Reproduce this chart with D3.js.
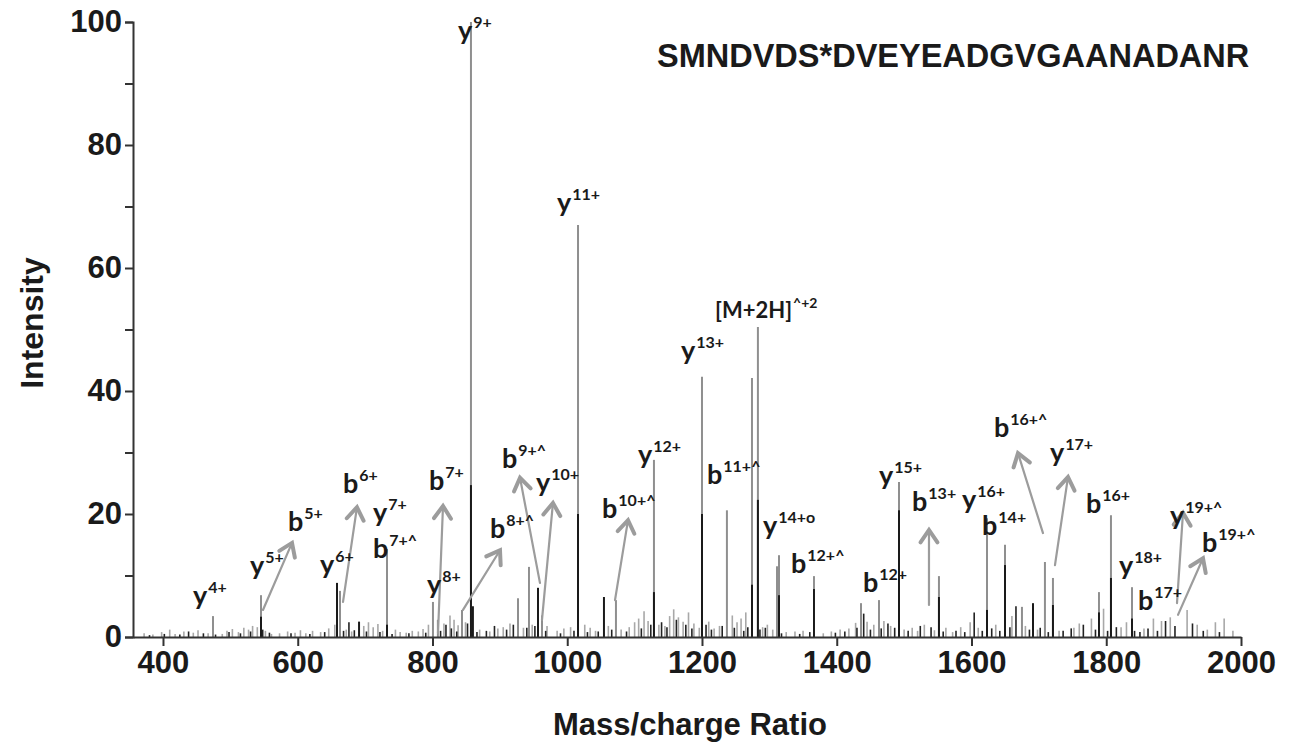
<!DOCTYPE html>
<html>
<head>
<meta charset="utf-8">
<script src="https://cdn.jsdelivr.net/npm/d3@7/dist/d3.min.js"></script>
<style>
  body { margin: 0; background: #fff; }
</style>
</head>
<body>
<div id="chart"></div>
<script>
// peptide shown in the top right corner
const peptide = 'SMNDVDS*DVEYEADGVGAANADANR';

// axis ticks
const xTicks = [400, 600, 800, 1000, 1200, 1400, 1600, 1800, 2000];
const yTicks = [0, 10, 20, 30, 40, 50, 60, 70, 80, 90, 100];

// main peaks, [m/z, intensity] - gray spectrum
const grayPeaks = [
    [474.2, 3.4], [545.5, 6.8], [662.7, 7.5], [732.5, 14.3], [800.7, 5.7], [808, 2.8],
    [843.8, 4.4], [857.1, 100], [926.9, 6.3], [943.2, 11.4], [962.5, 3.5], [1016, 67],
    [1072.3, 6], [1128.7, 28.8], [1200, 42.3], [1237, 20.6], [1274.2, 42.1], [1283, 50.4],
    [1311.3, 11.5], [1314.3, 13.3], [1366.2, 9.9], [1436, 5.5], [1462.7, 6], [1492.4, 25.2],
    [1551.7, 9.9], [1623, 19.3], [1649.7, 15], [1674.9, 4.9], [1709, 12.2], [1720.9, 9.6],
    [1789.2, 7.3], [1807, 19.8], [1838.2, 8.1]
];

// main peaks - black spectrum
const blackPeaks = [
    [545.5, 3.3], [658.3, 8.8], [691, 2.5], [732.5, 2], [857.1, 24.7], [860, 5],
    [956.6, 8], [1016, 20], [1054.5, 6.5], [1128.7, 7.3], [1200, 20], [1274.2, 8.5],
    [1283, 22.3], [1314.3, 6.8], [1366.2, 7.8], [1492.4, 20.6], [1551.7, 6.5], [1623, 4.4],
    [1649.7, 11.7], [1691.3, 5.5], [1720.9, 5.2], [1789.2, 4], [1807, 9.6], [1838.2, 3]
];

// small background peaks
const grayNoise = [
    [372, 0.6], [385, 0.4], [398, 0.8], [410, 1.2], [418, 0.5], [431, 0.9], [445, 0.7], [452, 1.1],
    [467, 0.6], [488, 0.5], [495, 1.0], [503, 1.3], [512, 0.8], [520, 1.5], [527, 1.2], [533, 1.8],
    [540, 1.6], [552, 1.0], [561, 0.5], [573, 0.6], [585, 0.9], [596, 0.7], [604, 1.1], [612, 0.6],
    [622, 1.0], [634, 0.8], [646, 1.4], [655, 2.0], [672, 1.2], [680, 0.9], [698, 1.8], [705, 2.4],
    [712, 1.6], [719, 2.1], [726, 1.0], [745, 1.2], [752, 0.8], [761, 0.7], [770, 1.0], [779, 0.9],
    [786, 1.3], [794, 2.0], [817, 2.2], [826, 3.5], [832, 2.8], [838, 1.9], [849, 2.4], [870, 1.2],
    [885, 0.9], [897, 1.4], [905, 1.6], [915, 2.2], [935, 1.5], [948, 2.0], [970, 1.8], [985, 1.0],
    [995, 1.4], [1005, 1.6], [1026, 2.0], [1034, 1.5], [1042, 1.0], [1061, 1.8], [1080, 1.2], [1092, 1.6],
    [1100, 2.4], [1106, 3.0], [1114, 4.2], [1120, 2.6], [1136, 2.0], [1145, 1.8], [1152, 3.4], [1158, 4.5],
    [1165, 3.2], [1172, 2.5], [1180, 4.0], [1188, 2.2], [1196, 1.5], [1210, 2.5], [1218, 1.4], [1226, 1.8],
    [1245, 3.5], [1252, 2.4], [1258, 3.0], [1265, 4.0], [1290, 1.6], [1297, 2.0], [1305, 1.2], [1325, 0.8],
    [1338, 0.9], [1350, 1.0], [1380, 0.6], [1392, 0.9], [1405, 1.2], [1418, 1.4], [1428, 2.3], [1445, 2.5],
    [1455, 2.0], [1470, 2.6], [1480, 1.8], [1500, 1.2], [1512, 1.5], [1520, 1.0], [1530, 2.0], [1545, 1.1],
    [1562, 1.5], [1572, 0.8], [1584, 1.6], [1598, 2.4], [1610, 1.5], [1636, 2.0], [1660, 3.4], [1680, 1.8],
    [1698, 1.2], [1730, 1.0], [1752, 1.5], [1760, 2.2], [1778, 3.0], [1796, 4.6], [1822, 1.6], [1830, 2.4],
    [1856, 1.4], [1870, 3.0], [1882, 2.6], [1895, 3.2], [1920, 4.4], [1935, 2.0], [1950, 1.2], [1962, 2.4],
    [1975, 3.0], [1988, 1.0]
];

const blackNoise = [
    [380, 0.3], [402, 0.5], [425, 0.4], [438, 0.9], [460, 0.6], [478, 0.4], [498, 0.8], [515, 0.6],
    [530, 0.9], [548, 1.2], [558, 0.7], [590, 0.6], [618, 0.5], [640, 0.8], [668, 1.0], [676, 2.4],
    [684, 1.1], [702, 0.9], [722, 0.8], [740, 0.5], [765, 0.6], [790, 0.7], [812, 1.0], [820, 2.0],
    [828, 1.4], [836, 0.9], [852, 2.2], [866, 0.8], [880, 1.0], [892, 1.8], [910, 1.2], [920, 2.0],
    [940, 1.5], [952, 1.8], [968, 1.0], [990, 0.6], [1010, 1.0], [1030, 0.8], [1046, 0.9], [1066, 1.2],
    [1088, 0.9], [1110, 1.4], [1124, 2.0], [1140, 2.4], [1148, 1.6], [1162, 2.8], [1176, 2.0], [1185, 1.4],
    [1206, 2.0], [1214, 1.2], [1230, 1.8], [1248, 1.5], [1262, 1.0], [1268, 1.6], [1286, 1.2], [1294, 1.5],
    [1318, 0.6], [1345, 0.5], [1360, 0.8], [1398, 0.7], [1412, 0.9], [1430, 1.5], [1440, 3.8], [1450, 1.2],
    [1466, 1.4], [1476, 2.2], [1486, 1.5], [1506, 1.0], [1524, 1.8], [1540, 1.6], [1558, 0.9], [1577, 1.0],
    [1590, 0.8], [1604, 4.0], [1616, 1.0], [1630, 1.4], [1642, 1.0], [1657, 1.6], [1666, 5.0], [1686, 1.2],
    [1702, 1.5], [1714, 0.8], [1736, 1.0], [1748, 1.4], [1766, 2.0], [1784, 1.2], [1802, 1.0], [1815, 1.6],
    [1842, 1.0], [1850, 0.8], [1862, 1.4], [1876, 1.0], [1888, 2.6], [1902, 1.8], [1928, 2.2], [1944, 1.0],
    [1968, 0.8]
];

// ion labels: base letter, superscript, and where the text starts (m/z, intensity)
const ionLabels = [
    ['y', '4+', 444.5, 5.2], ['y', '5+', 529.1, 10.1], ['b', '5+', 585.5, 17.2],
    ['y', '6+', 633.0, 10.2], ['b', '6+', 667.2, 23.4], ['y', '7+', 711.7, 18.7],
    ['b', '7+^', 711.7, 12.9], ['y', '8+', 791.8, 7.0], ['b', '7+', 794.8, 23.9],
    ['y', '9+', 837.8, 97.1], ['b', '8+^', 885.3, 16.1], ['b', '9+^', 903.1, 27.5],
    ['y', '10+', 953.6, 23.6], ['y', '11+', 984.8, 69.1], ['b', '10+^', 1051.6, 19.3],
    ['y', '12+', 1105.0, 28.1], ['y', '13+', 1168.8, 45.0], ['b', '11+^', 1207.4, 24.9],
    ['y', '14+o', 1290.5, 16.6], ['b', '12+^', 1332.1, 10.4], ['b', '12+', 1438.9, 7.3],
    ['y', '15+', 1462.7, 24.7], ['b', '13+', 1511.7, 20.5], ['y', '16+', 1585.9, 20.8],
    ['b', '14+', 1615.6, 16.6], ['b', '16+^', 1633.3, 32.5], ['y', '17+', 1716.5, 28.5],
    ['b', '16+', 1769.9, 20.2], ['y', '18+', 1818.9, 10.1], ['b', '17+', 1847.1, 4.4],
    ['y', '19+^', 1894.6, 18.2], ['b', '19+^', 1942.1, 13.8]
];

// precursor label
const precursorLabel = ['[M+2H]', '^+2', 1219.3, 51.9];

// arrows pointing from a small peak to its label: [m/z from, int from, m/z to, int to]
const arrows = [
    [548.4, 4.4, 591.5, 15.3], [667.2, 5.7, 687.9, 21.1], [808.2, 0.65, 815.6, 21.3],
    [845.3, 4.4, 900.2, 14.1], [959.5, 8.8, 929.9, 25.9], [962.5, 2.8, 978.8, 21.8],
    [1070.9, 6, 1090.2, 19], [1536.9, 5.2, 1536.9, 17.4], [1706.1, 16.9, 1669, 29.9],
    [1723.9, 11.7, 1743.2, 26], [1905, 5.5, 1913.9, 20.2], [1906.5, 3.6, 1943.6, 12.8]
];

const w = 1292;
const h = 753;

const svg = d3.select('#chart')
    .append('svg')
    .attr('width', w)
    .attr('height', h);

const xScale = d3.scaleLinear()
    .domain([355.5, 2000])
    .range([133, 1241]);

const yScale = d3.scaleLinear()
    .domain([0, 100])
    .range([637, 22]);

const tickFont = '"Liberation Sans", Arial, sans-serif';

// peaks: background first, then gray, then black on top
function drawPeaks(data, color, width) {
    svg.append('g')
        .selectAll('line')
        .data(data)
        .enter()
        .append('line')
        .attr('x1', d => xScale(d[0]))
        .attr('x2', d => xScale(d[0]))
        .attr('y1', yScale(0))
        .attr('y2', d => yScale(d[1]))
        .attr('stroke', color)
        .attr('stroke-width', width);
}
drawPeaks(grayNoise, '#a8a8a8', 1.6);
drawPeaks(blackNoise, '#222', 1.6);
drawPeaks(grayPeaks, '#8f8f8f', 2);
drawPeaks(blackPeaks, '#1a1a1a', 2);

// arrows
const arrowG = svg.append('g')
    .attr('stroke', '#9c9c9c')
    .attr('fill', 'none')
    .attr('stroke-linecap', 'round');

arrows.forEach(a => {
    const x1 = xScale(a[0]), y1 = yScale(a[1]);
    const x2 = xScale(a[2]), y2 = yScale(a[3]);
    arrowG.append('line')
        .attr('x1', x1).attr('y1', y1)
        .attr('x2', x2).attr('y2', y2)
        .attr('stroke-width', 2.2);
    // chevron head
    const ang = Math.atan2(y1 - y2, x1 - x2);
    const len = 15, spread = 0.6;
    const p1 = [x2 + len * Math.cos(ang - spread), y2 + len * Math.sin(ang - spread)];
    const p2 = [x2 + len * Math.cos(ang + spread), y2 + len * Math.sin(ang + spread)];
    arrowG.append('path')
        .attr('d', `M${p1[0]},${p1[1]}L${x2},${y2}L${p2[0]},${p2[1]}`)
        .attr('stroke-width', 4)
        .attr('stroke-linejoin', 'miter');
});

// y axis
const yAxis = d3.axisLeft(yScale)
    .tickValues(yTicks)
    .tickSize(8)
    .tickFormat(d => d % 20 === 0 ? d : '');

const yAxisG = svg.append('g')
    .attr('transform', 'translate(133,0)')
    .call(yAxis);

// x axis
const xAxis = d3.axisBottom(xScale)
    .tickValues(xTicks)
    .tickSize(9)
    .tickSizeOuter(0)
    .tickFormat(d3.format('d'));

const xAxisG = svg.append('g')
    .attr('transform', `translate(0,${yScale(0)})`)
    .call(xAxis);

[yAxisG, xAxisG].forEach(g => {
    g.select('.domain').attr('stroke', '#333').attr('stroke-width', 2);
    g.selectAll('.tick line').attr('stroke', '#333').attr('stroke-width', 2);
    g.selectAll('.tick text')
        .attr('fill', '#1a1a1a')
        .style('font-family', tickFont)
        .style('font-weight', 'bold')
        .style('font-size', '31px');
});
yAxisG.selectAll('.tick text').attr('x', -11);
xAxisG.selectAll('.tick text').attr('y', 14);

// axis titles
svg.append('text')
    .attr('transform', 'translate(43,323) rotate(-90)')
    .attr('text-anchor', 'middle')
    .style('font-family', tickFont)
    .style('font-size', '32px')
    .style('font-weight', 'bold')
    .attr('fill', '#1a1a1a')
    .text('Intensity');

svg.append('text')
    .attr('x', 690)
    .attr('y', 735)
    .attr('text-anchor', 'middle')
    .style('font-family', tickFont)
    .style('font-size', '31px')
    .style('font-weight', 'bold')
    .attr('fill', '#1a1a1a')
    .text('Mass/charge Ratio');

// peptide
svg.append('text')
    .attr('x', 657)
    .attr('y', 67)
    .style('font-family', tickFont)
    .style('font-size', '32.5px')
    .style('font-weight', 'bold')
    .attr('fill', '#1a1a1a')
    .text(peptide);

// ion labels
const labelFont = 'Lato, "Open Sans", sans-serif';
ionLabels.forEach(l => {
    const t = svg.append('text')
        .attr('x', xScale(l[2]))
        .attr('y', yScale(l[3]))
        .style('font-family', labelFont)
        .style('font-weight', 'bold')
        .attr('fill', '#1a1a1a');
    t.append('tspan').style('font-size', '27px').text(l[0]);
    t.append('tspan').style('font-size', '16px').attr('dx', 1).attr('dy', -12).text(l[1]);
});

const pt = svg.append('text')
    .attr('x', xScale(precursorLabel[2]))
    .attr('y', yScale(precursorLabel[3]))
    .style('font-family', labelFont)
    .style('font-weight', 'bold')
    .attr('fill', '#1a1a1a');
pt.append('tspan').style('font-size', '22px').text(precursorLabel[0]);
pt.append('tspan').style('font-size', '14px').attr('dx', 1).attr('dy', -10).text(precursorLabel[1]);
</script>
</body>
</html>
